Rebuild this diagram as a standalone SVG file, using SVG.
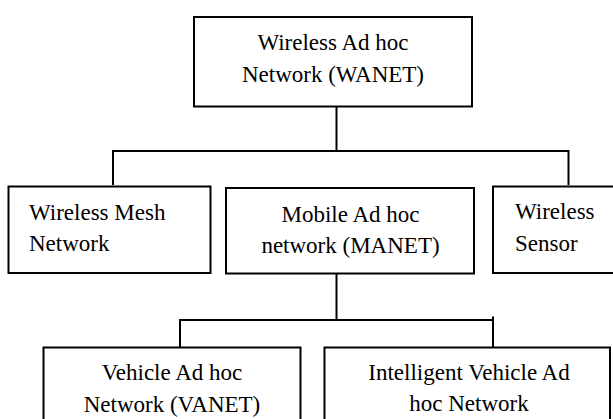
<svg xmlns="http://www.w3.org/2000/svg" width="613" height="419" viewBox="0 0 613 419">
<style>
.box{fill:#fff;stroke:#000;stroke-width:2}
.ln{fill:none;stroke:#000;stroke-width:2}
text{font-family:"Liberation Serif","Times New Roman",serif;font-size:23px;fill:#000}
.c{text-anchor:middle}
</style>
<rect width="613" height="419" fill="#fff"/>
<g id="connectors" class="ln">
<path d="M336.5 106.5V151M113 185V151H568.5V185"/>
<path d="M336.5 274V320M180 348V320H493M493 316.5V348"/>
</g>
<g id="wanet">
<rect class="box" x="194" y="17" width="278" height="89.5"/>
<text class="c" x="333" y="49.5">Wireless Ad hoc</text>
<text class="c" x="333" y="81.5">Network (WANET)</text>
</g>
<g id="mesh">
<rect class="box" x="8.5" y="186.5" width="202" height="86.5"/>
<text x="29" y="219.5">Wireless Mesh</text>
<text x="29" y="251">Network</text>
</g>
<g id="manet">
<rect class="box" x="226" y="188" width="248" height="85.5"/>
<text class="c" x="350.5" y="221.5">Mobile Ad hoc</text>
<text class="c" x="350.5" y="252.5">network (MANET)</text>
</g>
<g id="sensor">
<rect class="box" x="493" y="186.5" width="130" height="86.5"/>
<text x="515" y="219">Wireless</text>
<text x="515" y="250.5">Sensor</text>
</g>
<g id="vanet">
<rect class="box" x="43.5" y="347.5" width="257" height="90"/>
<text class="c" x="172" y="380">Vehicle Ad hoc</text>
<text class="c" x="172" y="411.5">Network (VANET)</text>
</g>
<g id="invanet">
<rect class="box" x="324.5" y="347.5" width="285.5" height="90"/>
<text class="c" x="469" y="379.5">Intelligent Vehicle Ad</text>
<text class="c" x="469" y="410.5">hoc Network</text>
</g>
</svg>
